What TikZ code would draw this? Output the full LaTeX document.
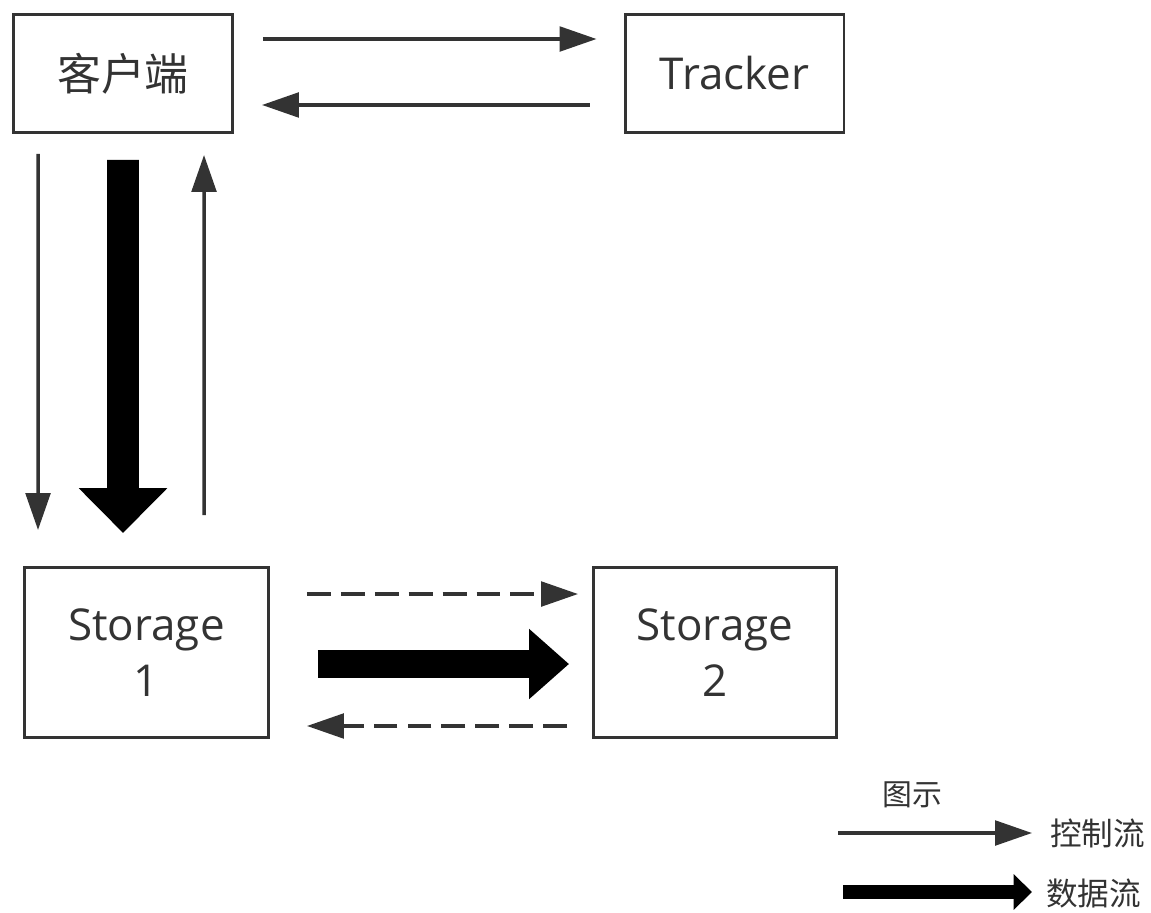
\documentclass[tikz,border=0pt]{standalone}
\usepackage{fontspec}
\setmainfont{Open Sans}
\newfontfamily\cjk{Noto Sans CJK SC}
\usetikzlibrary{arrows.meta,calc}
\definecolor{ink}{HTML}{333333}

\tikzset{
	box/.style={draw=ink, line width=1.7pt, inner sep=0pt, outer sep=0pt, text=ink,
		font=\fontsize{25}{32}\selectfont, align=center},
	ctrl/.style={draw=ink, line width=2pt, -{Triangle[length=21pt,width=14pt]}},
	ctrldash/.style={ctrl, dash pattern=on 13.6pt off 5.7pt},
	data/.style n args={3}{draw=black, line width=#1, -{Triangle[width=#2,length=#3]}},
	legendtxt/.style={text=ink, font=\cjk\fontsize{18}{20}\selectfont, inner sep=0pt}
}

\begin{document}
\begin{tikzpicture}[x=0.02cm, y=-0.02cm]
	\useasboundingbox (0,0) rectangle (1151,912);

	% boxes
	\node[box, minimum width=4.38cm, minimum height=2.36cm, font=\cjk\fontsize{25}{32}\selectfont] (client) at (123,73.5) {客户端};
	\node[box, minimum width=4.38cm, minimum height=2.36cm] (tracker) at (734.5,73.5) {Tracker};
	\node[box, minimum width=4.88cm, minimum height=3.4cm] (store1) at (146.5,652.5) {Storage\\1};
	\node[box, minimum width=4.86cm, minimum height=3.4cm] (store2) at (715,652.5) {Storage\\2};

	% client <-> tracker
	\draw[ctrl] ($(client.north east)+(30.5,24.5)$) -- ($(tracker.north west)+(-28.5,24.5)$);
	\draw[ctrl] ($(tracker.south west)+(-35.5,-27.5)$) -- ($(client.south east)+(29.5,-27.5)$);

	% client <-> storage 1
	\draw[ctrl] ($(client.south west)+(24.5,21.5)$) -- ($(store1.north west)+(13.5,-37.5)$);
	\draw[data={18pt}{48.8pt}{25.5pt}] ($(client.south)+(0,27.5)$) -- ($(store1.north west)+(98.5,-34.5)$);
	\draw[ctrl] ($(store1.north west)+(179.5,-52.5)$) -- ($(client.south west)+(190.5,22.5)$);

	% storage 1 <-> storage 2
	\draw[ctrldash] ($(store1.north east)+(38.5,26.5)$) -- ($(store2.north west)+(-15.5,26.5)$);
	\draw[data={15.9pt}{38.5pt}{22.7pt}] ($(store1.east)+(49.5,11.5)$) -- ($(store2.west)+(-24.5,11.5)$);
	\draw[ctrldash] ($(store2.south west)+(-26.5,-11.5)$) -- ($(store1.south east)+(38.5,-11.5)$);

	% legend
	\node[legendtxt, font=\cjk\fontsize{17}{20}\selectfont] (legend) at (912,795) {图示};
	\node[legendtxt, anchor=west] (ctrltxt) at (1050,833) {控制流};
	\node[legendtxt, anchor=west] (datatxt) at (1046,893) {数据流};
	\coordinate (ctrlstart) at (838,833);
	\coordinate (datastart) at (843,892);
	\draw[ctrl] (ctrlstart) -- ($(ctrltxt.west)+(-18,0)$);
	\draw[data={8.5pt}{19.8pt}{10.5pt}] (datastart) -- ($(datatxt.west)+(-14,-1)$);
\end{tikzpicture}
\end{document}
